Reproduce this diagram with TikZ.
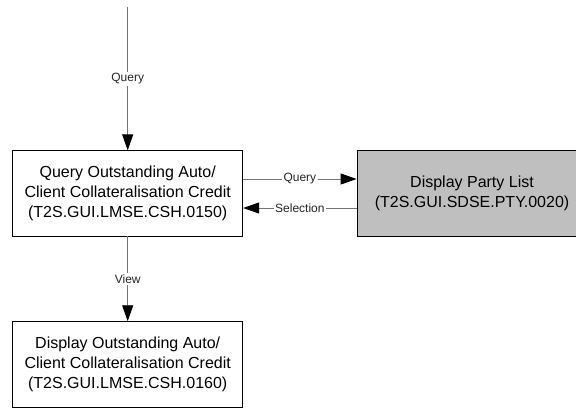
\documentclass[tikz,border=0pt]{standalone}
\usepackage{fontspec}
\setmainfont{Liberation Sans}
\usetikzlibrary{arrows.meta}

\begin{document}
\begin{tikzpicture}[x=1bp, y=-1bp,
    box/.style={draw=black, line width=0.8bp, minimum width=230bp, minimum height=85.3bp,
        align=center, font=\fontsize{16bp}{20bp}\selectfont},
    flow/.style={draw=black!55, line width=0.9bp, -{Triangle[length=16bp,width=11bp,color=black]}},
    lbl/.style={fill=white, inner sep=1.5bp, text=black!85, font=\fontsize{12bp}{14bp}\selectfont}]
    \useasboundingbox (0,0) rectangle (576,408);

    % Query Outstanding
    \node[box] (query) at (127.7,193.4) {Query Outstanding Auto/\\Client Collateralisation Credit\\(T2S.GUI.LMSE.CSH.0150)};

    % Display Party List
    \node[box, fill=black!25] (party) at (472,193.4) {Display Party List\\(T2S.GUI.SDSE.PTY.0020)};

    % Display Outstanding
    \node[box] (display) at (127.7,364.3) {Display Outstanding Auto/\\Client Collateralisation Credit\\(T2S.GUI.LMSE.CSH.0160)};

    % Ingresso
    \coordinate (start) at (127.7,7);
    \draw[flow] (start) -- node[lbl] {Query} (query.north);

    % Query / Selection
    \draw[flow] ([yshift=14.4bp]query.east) -- node[lbl] {Query} ([yshift=14.4bp]party.west);
    \draw[flow] ([yshift=-14.6bp]party.west) -- node[lbl] {Selection} ([yshift=-14.6bp]query.east);

    % View
    \draw[flow] (query.south) -- node[lbl] {View} (display.north);
\end{tikzpicture}
\end{document}
